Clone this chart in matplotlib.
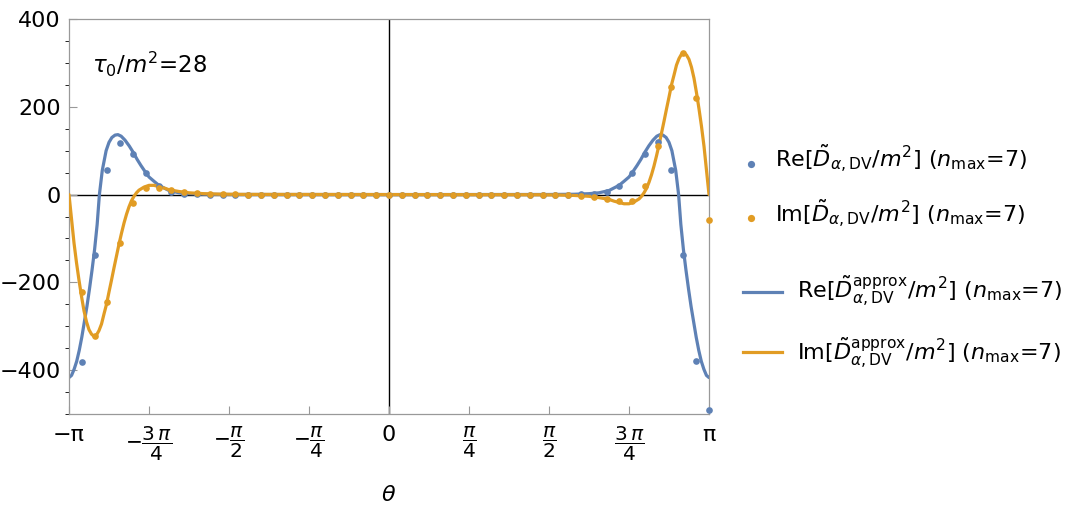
import numpy as np
import matplotlib
matplotlib.use("Agg")
import matplotlib.pyplot as plt
from matplotlib.lines import Line2D

plt.rcParams['font.family'] = ['DejaVu Sans']
plt.rcParams['mathtext.fontset'] = 'dejavusans'

# ---- data ----
# sample points theta_k = -pi + k*pi/25, k = 1..50
sample_k = np.arange(1, 51)
re_dots = [-381, -138, 55, 117, 92, 48, 20, 6, 2, 1] + [0] * 29 + \
          [1, 2, 6, 20, 48, 92, 119, 55, -138, -380, -492]
im_dots = [-221, -322, -244, -111, -20, 14, 15, 10, 5, 3] + \
          [2, 1, 1] + [0] * 23 + [-1, -1, -2] + \
          [-3, -6, -9, -15, -15, 20, 111, 245, 322, 220, -57]

# approximation curves, theta in units of pi
re_line_t_left = [-1.0, -0.992, -0.984, -0.976, -0.968, -0.96, -0.952, -0.944, -0.936, -0.928,
                  -0.92, -0.912, -0.905, -0.896, -0.884, -0.875, -0.866, -0.856, -0.847, -0.837,
                  -0.825, -0.812, -0.8, -0.787, -0.775, -0.762, -0.75, -0.734, -0.719, -0.703,
                  -0.687, -0.656, -0.625, -0.578, -0.5]
re_line_v_left = [-417, -412, -398, -380, -355, -325, -290, -255, -215, -172,
                  -125, -68, 0, 55, 100, 119, 130, 135.5, 136.5, 133,
                  124, 111, 97, 80, 66, 52, 40, 30, 21, 15,
                  9, 4, 2, 0.7, 0.2]
re_line_t_mid = [0.0]
re_line_v_mid = [0.0]
re_line_t_right = [0.5, 0.578, 0.625, 0.656, 0.687, 0.703, 0.719, 0.734, 0.75, 0.762,
                   0.775, 0.787, 0.8, 0.812, 0.825, 0.837, 0.847, 0.856, 0.866, 0.875,
                   0.884, 0.896, 0.905, 0.912, 0.92, 0.928, 0.936, 0.944, 0.952, 0.96,
                   0.968, 0.976, 0.984, 0.992, 1.0]
re_line_v_right = [0.2, 0.7, 2, 4, 9, 15, 21, 30, 40, 52,
                   66, 80, 97, 111, 124, 133, 136.5, 135.5, 130, 119,
                   100, 55, 0, -68, -125, -172, -215, -255, -290, -325,
                   -355, -380, -398, -412, -417]

im_line_t_left = [-1.0, -0.9922, -0.9844, -0.9766, -0.9688, -0.9609, -0.9531, -0.9453, -0.9375,
                  -0.9297, -0.9219, -0.9141, -0.9063, -0.8984, -0.8906, -0.8828, -0.875, -0.8672,
                  -0.8594, -0.8516, -0.8438, -0.8359, -0.8281, -0.8203, -0.8125, -0.8047, -0.7969,
                  -0.7891, -0.7813, -0.7656, -0.75, -0.7344, -0.7188, -0.7031, -0.6875, -0.6563,
                  -0.625, -0.5781, -0.5313, -0.4688]
im_line_v_left = [0, -55, -110, -155, -195, -232, -265, -290, -308,
                  -318, -323, -320, -310, -295, -272, -250, -222, -195,
                  -167, -140, -113, -88, -65, -45, -28, -14, -4,
                  4, 10, 17, 21, 21, 18, 15, 11, 7,
                  4, 2, 1, 0.4]
im_line_t_mid = [0.0]
im_line_v_mid = [0.0]
im_line_t_right = [0.4688, 0.5313, 0.5781, 0.625, 0.6563, 0.6875, 0.7031, 0.7188, 0.7344, 0.75,
                   0.7656, 0.7813, 0.7891, 0.7969, 0.8047, 0.8125, 0.8203, 0.8281, 0.8359, 0.8438,
                   0.8516, 0.8594, 0.8672, 0.875, 0.8828, 0.8906, 0.8984, 0.9063, 0.9141, 0.9219,
                   0.9297, 0.9375, 0.9453, 0.9531, 0.9609, 0.9688, 0.9766, 0.9844, 0.9922, 1.0]
im_line_v_right = [-0.4, -1, -2, -4, -7, -11, -15, -18, -21, -21,
                   -17, -10, -4, 4, 14, 28, 45, 65, 88, 113,
                   140, 167, 195, 222, 250, 272, 295, 310, 320, 323,
                   318, 308, 290, 265, 232, 195, 155, 110, 55, 0]

xtick_labels = ['\u2212\u03c0', r'$-\dfrac{3\,\pi}{4}$', r'$-\dfrac{\pi}{2}$', r'$-\dfrac{\pi}{4}$',
                '0', r'$\dfrac{\pi}{4}$', r'$\dfrac{\pi}{2}$', r'$\dfrac{3\,\pi}{4}$', '\u03c0']
ytick_values = [-400, -200, 0, 200, 400]
ytick_labels = ['\u2212400', '\u2212200', '0', '200', '400']

legend_labels = [
    r'Re[$\tilde{D}_{\alpha,\mathrm{DV}}/m^2$] ($n_{\mathrm{max}}$=7)',
    r'Im[$\tilde{D}_{\alpha,\mathrm{DV}}/m^2$] ($n_{\mathrm{max}}$=7)',
    r'Re[$\tilde{D}^{\mathrm{approx}}_{\alpha,\mathrm{DV}}/m^2$] ($n_{\mathrm{max}}$=7)',
    r'Im[$\tilde{D}^{\mathrm{approx}}_{\alpha,\mathrm{DV}}/m^2$] ($n_{\mathrm{max}}$=7)',
]

BLUE = '#5E81B5'
ORANGE = '#E19C24'
FRAME = '#999999'

fig = plt.figure(figsize=(10.78, 5.14), dpi=100)
ax = fig.add_axes([69 / 1078, 1 - 414 / 514, 640 / 1078, 395 / 514])

re_t = np.array(re_line_t_left + re_line_t_mid + re_line_t_right) * np.pi
re_v = re_line_v_left + re_line_v_mid + re_line_v_right
im_t = np.array(im_line_t_left + im_line_t_mid + im_line_t_right) * np.pi
im_v = im_line_v_left + im_line_v_mid + im_line_v_right
theta_pts = -np.pi + sample_k * np.pi / 25

ax.axhline(0, color='black', lw=1.0, zorder=1)
ax.axvline(0, color='black', lw=1.0, zorder=1)
ax.plot(re_t, re_v, color=BLUE, lw=2.3, zorder=2, solid_joinstyle='round',
        solid_capstyle='round')
ax.plot(im_t, im_v, color=ORANGE, lw=2.3, zorder=3, solid_joinstyle='round',
        solid_capstyle='round')
ax.plot(theta_pts, re_dots, 'o', color=BLUE, ms=4.8, mew=0, zorder=4, clip_on=False)
ax.plot(theta_pts, im_dots, 'o', color=ORANGE, ms=4.8, mew=0, zorder=5, clip_on=False)

ax.set_xlim(-np.pi, np.pi)
ax.set_ylim(-500, 400)
ax.set_xticks(np.arange(-4, 5) * np.pi / 4)
ax.set_xticklabels(xtick_labels, fontsize=16)
for lbl in ax.get_xticklabels():
    if '$' in lbl.get_text():
        lbl.set_fontsize(14.5)
ax.set_yticks(ytick_values)
ax.set_yticklabels(ytick_labels, fontsize=16)
ax.set_yticks(np.arange(-500, 401, 50), minor=True)
ax.tick_params(axis='both', direction='in', color=FRAME, width=0.8, labelcolor='black')
ax.tick_params(axis='x', length=5.5, pad=8)
ax.tick_params(axis='y', which='major', length=5.5, pad=6)
ax.tick_params(axis='y', which='minor', length=3.2)
for s in ax.spines.values():
    s.set_color(FRAME)
    s.set_linewidth(0.9)

ax.text(0.036, 0.884, r'$\tau_0/m^2$=28', transform=ax.transAxes, fontsize=16.5,
        va='center', ha='left')
fig.text(389 / 1078, 1 - 495 / 514, r'$\theta$', fontsize=16, ha='center', va='center')

# legend (manual)
fs_leg = 16
fig.add_artist(Line2D([751 / 1078], [1 - 164 / 514], marker='o', color=BLUE, ms=5.2, mew=0,
                      ls='none', transform=fig.transFigure))
fig.add_artist(Line2D([751 / 1078], [1 - 218 / 514], marker='o', color=ORANGE, ms=5.2, mew=0,
                      ls='none', transform=fig.transFigure))
fig.add_artist(Line2D([743 / 1078, 782 / 1078], [1 - 291.5 / 514] * 2, color=BLUE, lw=2.3,
                      transform=fig.transFigure))
fig.add_artist(Line2D([743 / 1078, 782 / 1078], [1 - 352 / 514] * 2, color=ORANGE, lw=2.3,
                      transform=fig.transFigure))
fig.text(775 / 1078, 1 - 167.5 / 514, legend_labels[0], fontsize=fs_leg, va='baseline')
fig.text(775 / 1078, 1 - 222 / 514, legend_labels[1], fontsize=fs_leg, va='baseline')
fig.text(797 / 1078, 1 - 298.5 / 514, legend_labels[2], fontsize=fs_leg, va='baseline')
fig.text(797 / 1078, 1 - 359.5 / 514, legend_labels[3], fontsize=fs_leg, va='baseline')

fig.savefig('out.png', dpi=100)
